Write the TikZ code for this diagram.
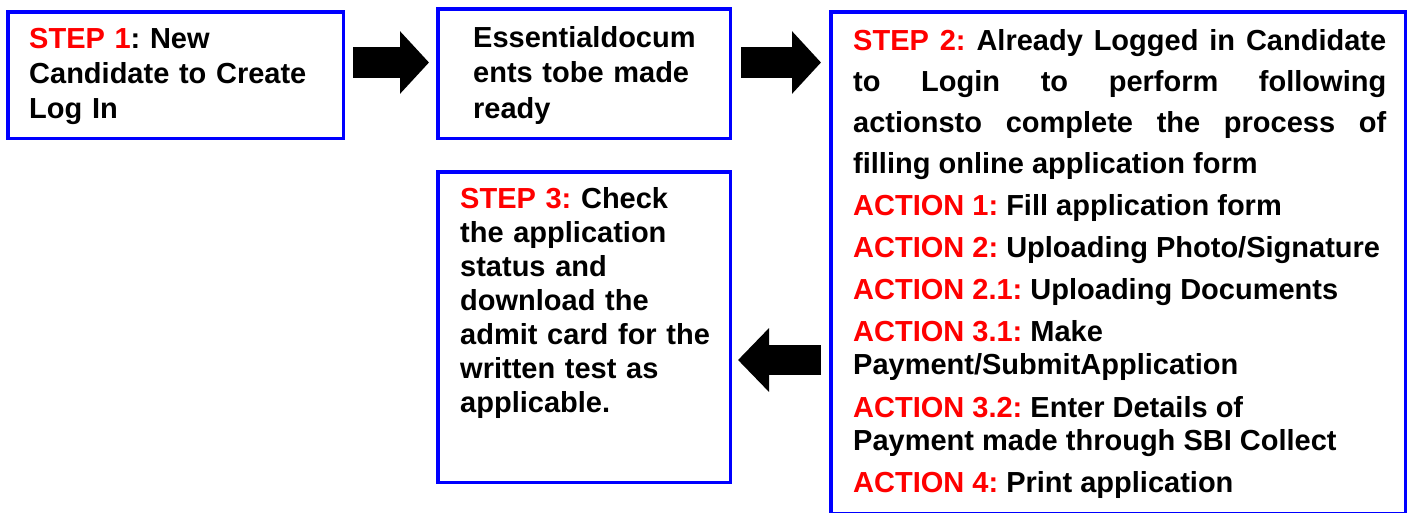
\documentclass[tikz,border=0pt]{standalone}
\usepackage{fontspec}
\setmainfont{Liberation Sans}
\usetikzlibrary{arrows.meta}
\definecolor{boxblue}{RGB}{0,0,255}
\definecolor{stepred}{RGB}{255,0,0}
\newcommand{\rd}[1]{\textcolor{stepred}{#1}}
\frenchspacing
\begin{document}
\begin{tikzpicture}[x=1pt,y=-1pt,
  box/.style={draw=boxblue, line width=3.5pt, rectangle, inner sep=0pt},
  txt/.style={anchor=base west, inner sep=0pt, align=left, font=\bfseries\frenchspacing\fontsize{29}{35}\selectfont},
  bigarrow/.style={line width=31pt, -{Triangle[length=29pt,width=61pt]}}]
\useasboundingbox (0,0) rectangle (1412,512);
% boxes
\node[box, minimum width=335.5pt, minimum height=126.5pt] (b1) at (175.5,75) {};
\node[box, minimum width=292.5pt, minimum height=129.5pt] (b2) at (584,73.5) {};
\node[box, minimum width=574.5pt, minimum height=501.5pt] (b3) at (1118,262.5) {};
\node[box, minimum width=292.5pt, minimum height=310.5pt] (b4) at (584,327) {};
% texts
\node[txt, text width=320pt] (t1) at (29,48) {\rd{STEP 1}: New\\Candidate to Create\\Log In};
\node[txt, text width=280pt, font=\bfseries\frenchspacing\fontsize{29}{35.5}\selectfont] (t2) at (473,47) {Essentialdocum\\ents tobe made\\ready};
\node[txt, text width=280pt, font=\bfseries\frenchspacing\fontsize{29}{34}\selectfont] (t4) at (460,208) {\rd{STEP 3:} Check\\the application\\status and\\download the\\admit card for the\\written test as\\applicable.};
\node[txt, text width=533pt, align=justify, font=\bfseries\frenchspacing\fontsize{29}{41}\selectfont] (t3) at (853,50) {\leavevmode\rd{STEP 2:} Already Logged in Candidate\linebreak to Login to perform following\linebreak actionsto complete the process of\linebreak filling online application form\par
\fontsize{29}{33.5}\selectfont\setlength{\parskip}{8.6pt}%
\leavevmode\rd{ACTION 1:} Fill application form\par
\leavevmode\rd{ACTION 2:} Uploading Photo/Signature\par
\leavevmode\rd{ACTION 2.1:} Uploading Documents\par
\leavevmode\rd{ACTION 3.1:} Make\newline Payment/SubmitApplication\par
\leavevmode\rd{ACTION 3.2:} Enter Details of\newline Payment made through SBI Collect\par
\leavevmode\rd{ACTION 4:} Print application\par};
% arrows
\coordinate (a1s) at ([xshift=8pt,yshift=12.5pt]b1.east);
\coordinate (a2s) at ([xshift=9pt,yshift=11pt]b2.east);
\coordinate (a3s) at ([xshift=-8pt,yshift=-97.5pt]b3.west);
\draw[bigarrow, shorten >=7pt] (a1s) -- (b2.west |- a1s);
\draw[bigarrow, shorten >=8pt] (a2s) -- (b3.west |- a2s);
\draw[bigarrow, line width=30pt, -{Triangle[length=31pt,width=62pt]}, shorten >=6pt] (a3s) -- (b4.east |- a3s);
\end{tikzpicture}
\end{document}
